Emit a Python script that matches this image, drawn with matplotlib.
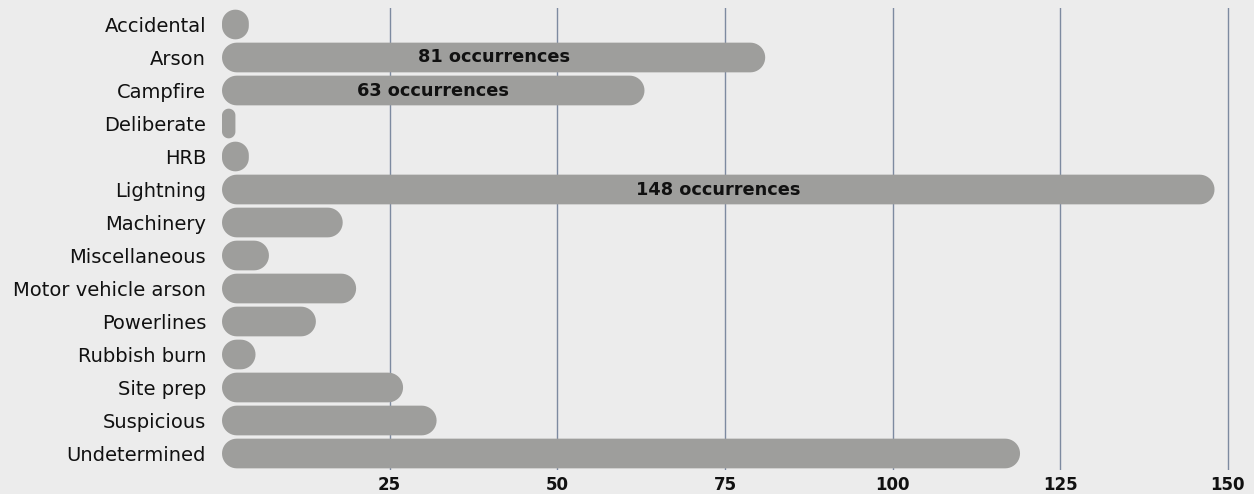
import numpy as np
import matplotlib.pyplot as plt
from matplotlib.patches import Polygon

causes = ["Accidental", "Arson", "Campfire", "Deliberate", "HRB", "Lightning",
          "Machinery", "Miscellaneous", "Motor vehicle arson", "Powerlines",
          "Rubbish burn", "Site prep", "Suspicious", "Undetermined"]
counts = [4, 81, 63, 2, 4, 148, 18, 7, 20, 14, 5, 27, 32, 119]
labelled = ["Arson", "Campfire", "Lightning"]
xticks = [25, 50, 75, 100, 125, 150]

plt.rcParams['font.family'] = ['DejaVu Sans']

bg = "#ececec"
bar_col = "#9e9e9c"

fig = plt.figure(figsize=(12.54, 4.94), dpi=100, facecolor=bg)
ax = fig.add_axes([222 / 1254, 1 - 470 / 494, (1240 - 222) / 1254, (470 - 8) / 494])
ax.set_facecolor(bg)
xmax = 151.8
ax.set_xlim(0, xmax)
ax.set_ylim(len(causes) - 0.5, -0.5)

# pixel size of one data unit, so the caps come out round
bbox = ax.get_position()
px_x = bbox.width * 1254 / xmax
px_y = bbox.height * 494 / len(causes)


def pill(x0, x1, yc, h):
    w_px = (x1 - x0) * px_x
    h_px = h * px_y
    r = min(h_px / 2, w_px / 2)
    rx = r / px_x
    ry = r / px_y
    t = np.linspace(0, np.pi / 2, 12)
    pts = []
    for a in t:  # bottom-right corner
        pts.append((x1 - rx + rx * np.sin(a), yc + h / 2 - ry + ry * np.cos(a)))
    for a in t[::-1]:  # top-right
        pts.append((x1 - rx + rx * np.sin(a), yc - h / 2 + ry - ry * np.cos(a)))
    for a in t:  # top-left
        pts.append((x0 + rx - rx * np.sin(a), yc - h / 2 + ry - ry * np.cos(a)))
    for a in t[::-1]:  # bottom-left
        pts.append((x0 + rx - rx * np.sin(a), yc + h / 2 - ry + ry * np.cos(a)))
    return Polygon(pts, closed=True, fc=bar_col, ec="none", zorder=3)


h = 0.9
for i, (c, v) in enumerate(zip(causes, counts)):
    ax.add_patch(pill(0, v, i, h))
    if c in labelled:
        ax.text(v / 2, i, "%d occurrences" % v, ha="center", va="center",
                fontsize=12.8, fontweight="bold", color="#111111", zorder=4)

for x in xticks:
    ax.axvline(x, color="#7d8aa0", lw=1, zorder=1)

ax.set_yticks(range(len(causes)))
ax.set_yticklabels(causes, fontsize=14, color="#111111")
ax.set_xticks(xticks)
ax.set_xticklabels([str(x) for x in xticks], fontsize=12, fontweight="bold", color="#111111")
ax.tick_params(length=0)
ax.tick_params(axis="y", pad=11.5)
ax.tick_params(axis="x", pad=4)
for s in ax.spines.values():
    s.set_visible(False)

fig.savefig("out.png", dpi=100, facecolor=bg)
